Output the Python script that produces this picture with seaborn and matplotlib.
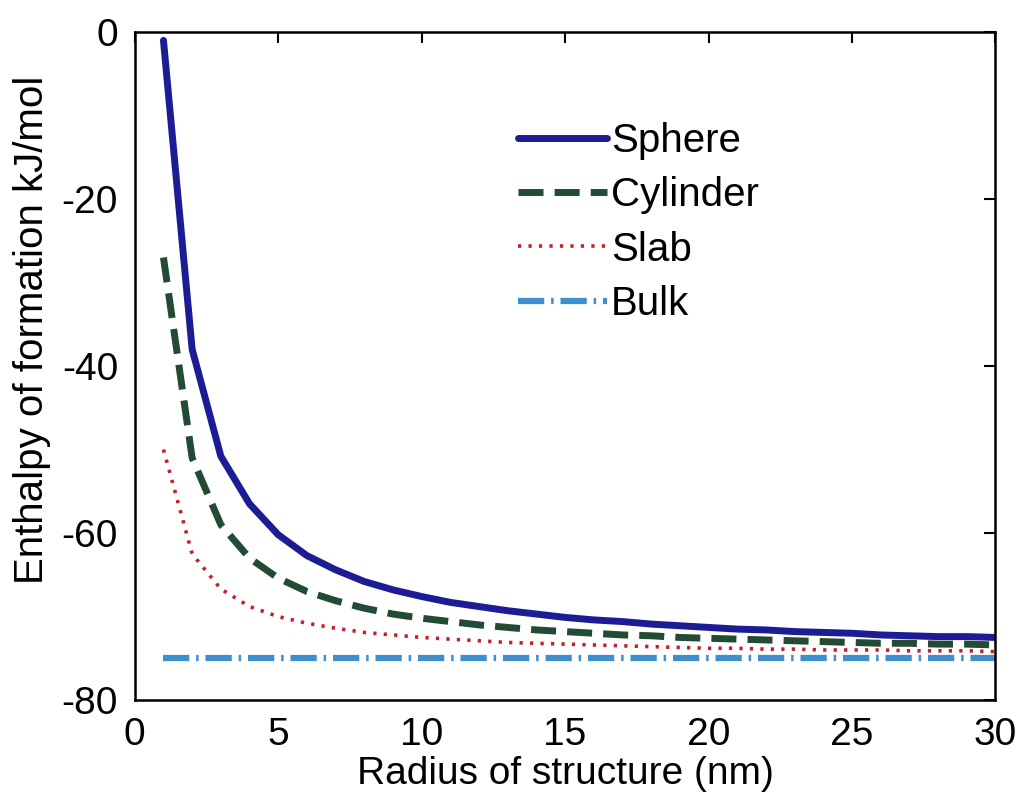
import matplotlib
matplotlib.use("Agg")
import matplotlib.pyplot as plt
import seaborn as sns
import pandas as pd

radius = list(range(1, 31))
sphere = [-1.0, -38.0, -50.8, -56.5, -60.2, -62.7, -64.4, -65.8, -66.8, -67.6,
          -68.3, -68.8, -69.3, -69.7, -70.1, -70.4, -70.6, -70.9, -71.1, -71.3,
          -71.5, -71.6, -71.8, -71.9, -72.0, -72.2, -72.3, -72.4, -72.4, -72.5]
cylinder = [-27.0, -51.0, -59.0, -63.0, -65.4, -67.0, -68.1, -69.0, -69.7, -70.2,
            -70.6, -71.0, -71.3, -71.6, -71.8, -72.0, -72.2, -72.3, -72.5, -72.6,
            -72.7, -72.8, -72.9, -73.0, -73.1, -73.2, -73.2, -73.3, -73.3, -73.4]
slab = [-50.0, -62.5, -66.7, -68.8, -70.0, -70.8, -71.4, -71.9, -72.2, -72.5,
        -72.7, -72.9, -73.1, -73.2, -73.3, -73.4, -73.5, -73.6, -73.7, -73.8,
        -73.8, -73.9, -73.9, -74.0, -74.0, -74.0, -74.1, -74.1, -74.1, -74.2]
bulk = [-75.0] * 30

series_names = ["Sphere", "Cylinder", "Slab", "Bulk"]
series_vals = [sphere, cylinder, slab, bulk]
colors = ["#1c1c94", "#234a33", "#c4202c", "#3d8fd0"]
styles = ["-", (0, (3.6, 1.6)), (0, (0.9, 2.0)), (0, (4.2, 1.1, 0.4, 1.1))]
widths = [5.0, 5.0, 2.6, 4.5]

sns.set_style("white")
plt.rcParams["font.family"] = ["Liberation Sans", "DejaVu Sans"]
plt.rcParams["axes.unicode_minus"] = False
plt.rcParams["text.color"] = "black"
plt.rcParams["axes.labelcolor"] = "black"
plt.rcParams["xtick.color"] = "black"
plt.rcParams["ytick.color"] = "black"

fig = plt.figure(figsize=(10.21, 8.01), dpi=100)
ax = fig.add_axes([0.132, 0.126, 0.843, 0.834])

for name, vals, c, ls, lw in zip(series_names, series_vals, colors, styles, widths):
    df = pd.DataFrame({"r": radius, "H": vals})
    sns.lineplot(data=df, x="r", y="H", ax=ax, color=c, linestyle=ls,
                 linewidth=lw, label=name)

ax.set_xlim(0, 30)
ax.set_ylim(-80, 0)
ax.set_xticks([0, 5, 10, 15, 20, 25, 30])
ax.set_yticks([-80, -60, -40, -20, 0])
ax.tick_params(direction="in", length=8, width=1.5, labelsize=28,
               top=True, right=True)
ax.tick_params(axis="x", pad=12)
ax.tick_params(axis="y", pad=12)
for s in ax.spines.values():
    s.set_color("black")
    s.set_linewidth(1.8)
ax.set_xlabel("Radius of structure (nm)", fontsize=28, labelpad=2)
ax.set_ylabel("Enthalpy of formation kJ/mol", fontsize=29)
ax.yaxis.set_label_coords(-0.097, 0.555)

leg = ax.legend(loc="upper left", bbox_to_anchor=(0.422, 0.895), frameon=False,
                fontsize=29, handlelength=2.2, handletextpad=0.1,
                labelspacing=0.4, borderpad=0)
for t in leg.get_texts():
    t.set_color("black")

fig.savefig("out.png", dpi=100)
